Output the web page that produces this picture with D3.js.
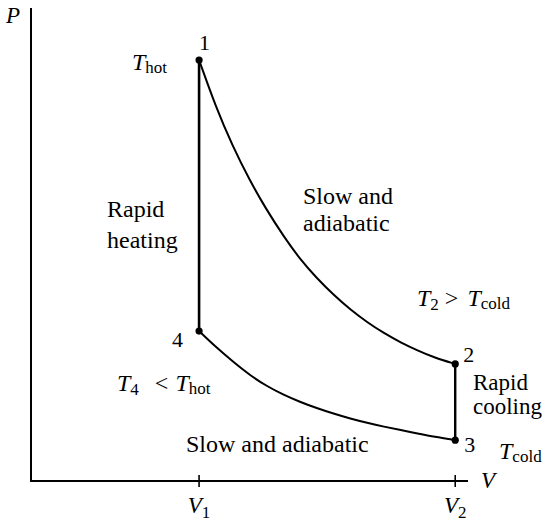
<!DOCTYPE html>
<html>
<head>
<meta charset="utf-8">
<script src="https://cdn.jsdelivr.net/npm/d3@7"></script>
</head>
<body style="margin:0">
<svg id="chart" width="544" height="523"></svg>
<script>
// ---- Data ----
// Volume (V1 = 1) and pressure (P1 = 10) in arbitrary units
const cornerNames = ["1", "2", "3", "4"];
const cornerV = [1.0, 2.524, 2.524, 1.0];
const cornerP = [10.0, 2.78, 0.97, 3.56];

// upper adiabat 1 -> 2
const adiabatUpperV = [1.0, 1.1, 1.2, 1.3, 1.4, 1.5, 1.6, 1.7, 1.8, 1.9, 2.0, 2.1, 2.2, 2.3, 2.4, 2.524];
const adiabatUpperP = [10.0, 8.88, 7.95, 7.15, 6.45, 5.83, 5.27, 4.82, 4.42, 4.07, 3.77, 3.51, 3.29, 3.10, 2.93, 2.78];

// lower adiabat 4 -> 3
const adiabatLowerV = [1.0, 1.1, 1.2, 1.3, 1.4, 1.5, 1.6, 1.7, 1.8, 1.9, 2.0, 2.1, 2.2, 2.3, 2.4, 2.524];
const adiabatLowerP = [3.56, 3.18, 2.84, 2.52, 2.26, 2.05, 1.88, 1.73, 1.60, 1.48, 1.38, 1.29, 1.21, 1.13, 1.05, 0.97];

const xTickValues = [1.0, 2.524];
const xTickSubs = ["1", "2"];
const axisNames = ["V", "P"];

// ---- Drawing ----
const FONT = "Liberation Serif";
const svg = d3.select("#chart");
const x = d3.scaleLinear().domain([0, 2.6]).range([31, 468]);
const y = d3.scaleLinear().domain([0, 11.235]).range([481, 8]);

// axes
svg.append("line").attr("x1", x(0)).attr("x2", x(0)).attr("y1", y(0) + 1).attr("y2", y(11.235))
  .attr("stroke", "#000").attr("stroke-width", 2);
svg.append("line").attr("x1", x(0) - 1).attr("x2", x(2.6)).attr("y1", y(0)).attr("y2", y(0))
  .attr("stroke", "#000").attr("stroke-width", 2);

// ticks
svg.selectAll(".tick").data(xTickValues).enter().append("line")
  .attr("x1", d => x(d)).attr("x2", d => x(d))
  .attr("y1", y(0) - 6).attr("y2", y(0) + 6)
  .attr("stroke", "#000").attr("stroke-width", 1.6);

// tick labels V1, V2
const tl = svg.selectAll(".tl").data(xTickValues).enter().append("text")
  .attr("x", d => x(d)).attr("y", 513).attr("text-anchor", "middle")
  .attr("font-family", FONT).attr("font-size", 23);
tl.append("tspan").attr("font-style", "italic").text(axisNames[0]);
tl.append("tspan").attr("dy", 5).attr("font-size", 17).text((d, i) => xTickSubs[i]);

// axis names
svg.append("text").attr("x", 481).attr("y", 488).attr("font-family", FONT).attr("font-size", 23).attr("font-style", "italic").text(axisNames[0]);
svg.append("text").attr("x", 6).attr("y", 23).attr("font-family", FONT).attr("font-size", 23).attr("font-style", "italic").text(axisNames[1]);

// cycle lines
const line = d3.line().x(d => x(d[0])).y(d => y(d[1])).curve(d3.curveBasis);
const up = adiabatUpperV.map((v, i) => [v, adiabatUpperP[i]]);
const lo = adiabatLowerV.map((v, i) => [v, adiabatLowerP[i]]);
svg.append("path").attr("d", line(up)).attr("fill", "none").attr("stroke", "#000").attr("stroke-width", 2);
svg.append("path").attr("d", line(lo)).attr("fill", "none").attr("stroke", "#000").attr("stroke-width", 2);
// isochores 4->1 and 2->3
svg.append("line").attr("x1", x(cornerV[3])).attr("x2", x(cornerV[0])).attr("y1", y(cornerP[3])).attr("y2", y(cornerP[0]))
  .attr("stroke", "#000").attr("stroke-width", 2.6);
svg.append("line").attr("x1", x(cornerV[1])).attr("x2", x(cornerV[2])).attr("y1", y(cornerP[1])).attr("y2", y(cornerP[2]))
  .attr("stroke", "#000").attr("stroke-width", 2.4);

// corner dots
svg.selectAll(".dot").data(cornerV).enter().append("circle")
  .attr("cx", d => x(d)).attr("cy", (d, i) => y(cornerP[i])).attr("r", 3.6).attr("fill", "#000");

// corner labels
const labelOffsets = [[0, -10], [8, -2], [9, 12], [-27, 16]];
svg.selectAll(".cl").data(cornerNames).enter().append("text")
  .attr("x", (d, i) => x(cornerV[i]) + labelOffsets[i][0])
  .attr("y", (d, i) => y(cornerP[i]) + labelOffsets[i][1])
  .attr("font-family", FONT).attr("font-size", 22).text(d => d);

// annotations
function tempLabel(xp, yp, parts) {
  const t = svg.append("text").attr("x", xp).attr("y", yp).attr("font-family", FONT).attr("font-size", 24);
  parts.forEach(p => {
    const s = t.append("tspan").attr("font-family", FONT).text(p.t);
    if (p.it) s.attr("font-style", "italic");
    if (p.sub) s.attr("font-size", 17);
    if (p.dy) s.attr("dy", p.dy);
    if (p.dx) s.attr("dx", p.dx);
  });
}
const blockTexts = [
  {x: 107, y: 217, t: "Rapid", s: 24},
  {x: 107, y: 248, t: "heating", s: 24},
  {x: 303, y: 204, t: "Slow and", s: 24},
  {x: 303, y: 231, t: "adiabatic", s: 24},
  {x: 473, y: 390, t: "Rapid", s: 23},
  {x: 473, y: 414, t: "cooling", s: 23},
  {x: 186, y: 452, t: "Slow and adiabatic", s: 24}
];
svg.selectAll(".blk").data(blockTexts).enter().append("text")
  .attr("x", d => d.x).attr("y", d => d.y)
  .attr("font-size", d => d.s)
  .attr("font-family", FONT)
  .text(d => d.t);

tempLabel(132, 70, [{t: "T", it: true}, {t: "hot", sub: true, dy: 3}]);
tempLabel(417, 306, [{t: "T", it: true}, {t: "2", sub: true, dy: 4}, {t: ">", dy: -4, dx: 6}, {t: "T", it: true, dx: 9}, {t: "cold", sub: true, dy: 3}]);
tempLabel(117, 391, [{t: "T", it: true}, {t: "4", sub: true, dy: 4}, {t: "<", dy: -4, dx: 16}, {t: "T", it: true, dx: 7}, {t: "hot", sub: true, dy: 3}]);
tempLabel(499, 459, [{t: "T", it: true}, {t: "cold", sub: true, dy: 3}]);
</script>
</body>
</html>
